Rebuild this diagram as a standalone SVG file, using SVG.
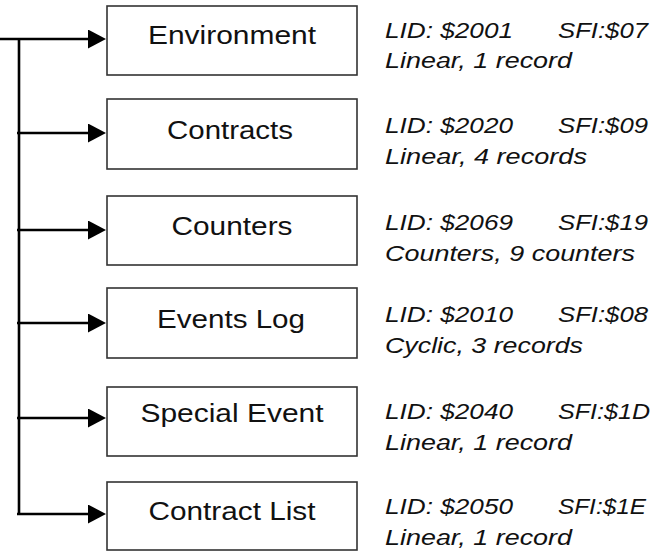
<svg xmlns="http://www.w3.org/2000/svg" width="658" height="553" viewBox="0 0 658 553">
  <style>
    .box { fill: #ffffff; stroke: #333333; stroke-width: 1.6; }
    .lbl { font-family: "Liberation Sans", Arial, sans-serif; font-size: 26px; fill: #111111; text-anchor: middle; }
    .info { font-family: "Liberation Sans", Arial, sans-serif; font-size: 22px; font-style: italic; fill: #111111; }
    .conn { fill: none; stroke: #000000; stroke-width: 2.6; }
  </style>
  <defs>
    <marker id="arrow" markerUnits="userSpaceOnUse" markerWidth="20" markerHeight="20" refX="1" refY="9.5" orient="auto">
      <path d="M0,0 L18,9.5 L0,19 z" fill="#000000"/>
    </marker>
  </defs>
  <rect width="658" height="553" fill="#ffffff"/>

  <g id="connectors">
    <line class="conn" x1="19" y1="38" x2="19" y2="515"/>
    <line class="conn" x1="0" y1="39" x2="89" y2="39" marker-end="url(#arrow)"/>
    <line class="conn" x1="17" y1="133" x2="89" y2="133" stroke-width="4" marker-end="url(#arrow)"/>
    <line class="conn" x1="17" y1="230" x2="89" y2="230" marker-end="url(#arrow)"/>
    <line class="conn" x1="17" y1="323" x2="89" y2="323" marker-end="url(#arrow)"/>
    <line class="conn" x1="17" y1="418" x2="89" y2="418" marker-end="url(#arrow)"/>
    <line class="conn" x1="17" y1="514" x2="89" y2="514" marker-end="url(#arrow)"/>
  </g>

  <g id="environment">
    <rect class="box" x="107" y="6" width="250" height="69"/>
    <text class="lbl" x="232" y="44" textLength="168" lengthAdjust="spacingAndGlyphs">Environment</text>
    <text class="info" x="385" y="37.5" textLength="128" lengthAdjust="spacingAndGlyphs">LID: $2001</text>
    <text class="info" x="558" y="37.5" textLength="90" lengthAdjust="spacingAndGlyphs">SFI:$07</text>
    <text class="info" x="385" y="68" textLength="187" lengthAdjust="spacingAndGlyphs">Linear, 1 record</text>
  </g>

  <g id="contracts">
    <rect class="box" x="107" y="99" width="250" height="70"/>
    <text class="lbl" x="230" y="139" textLength="126" lengthAdjust="spacingAndGlyphs">Contracts</text>
    <text class="info" x="385" y="133" textLength="128" lengthAdjust="spacingAndGlyphs">LID: $2020</text>
    <text class="info" x="558" y="133" textLength="90" lengthAdjust="spacingAndGlyphs">SFI:$09</text>
    <text class="info" x="385" y="163.5" textLength="202" lengthAdjust="spacingAndGlyphs">Linear, 4 records</text>
  </g>

  <g id="counters">
    <rect class="box" x="107" y="196" width="250" height="69"/>
    <text class="lbl" x="232" y="235" textLength="121" lengthAdjust="spacingAndGlyphs">Counters</text>
    <text class="info" x="385" y="230" textLength="128" lengthAdjust="spacingAndGlyphs">LID: $2069</text>
    <text class="info" x="558" y="230" textLength="90" lengthAdjust="spacingAndGlyphs">SFI:$19</text>
    <text class="info" x="385" y="260.5" textLength="250" lengthAdjust="spacingAndGlyphs">Counters, 9 counters</text>
  </g>

  <g id="events-log">
    <rect class="box" x="107" y="288" width="250" height="70"/>
    <text class="lbl" x="231" y="327.5" textLength="148" lengthAdjust="spacingAndGlyphs">Events Log</text>
    <text class="info" x="385" y="322" textLength="128" lengthAdjust="spacingAndGlyphs">LID: $2010</text>
    <text class="info" x="558" y="322" textLength="90" lengthAdjust="spacingAndGlyphs">SFI:$08</text>
    <text class="info" x="385" y="353" textLength="198" lengthAdjust="spacingAndGlyphs">Cyclic, 3 records</text>
  </g>

  <g id="special-event">
    <rect class="box" x="107" y="387" width="250" height="69"/>
    <text class="lbl" x="232" y="422" textLength="183" lengthAdjust="spacingAndGlyphs">Special Event</text>
    <text class="info" x="385" y="419" textLength="128" lengthAdjust="spacingAndGlyphs">LID: $2040</text>
    <text class="info" x="558" y="419" textLength="92" lengthAdjust="spacingAndGlyphs">SFI:$1D</text>
    <text class="info" x="385" y="450" textLength="187" lengthAdjust="spacingAndGlyphs">Linear, 1 record</text>
  </g>

  <g id="contract-list">
    <rect class="box" x="107" y="482" width="250" height="68"/>
    <text class="lbl" x="232" y="520" textLength="167" lengthAdjust="spacingAndGlyphs">Contract List</text>
    <text class="info" x="385" y="514" textLength="128" lengthAdjust="spacingAndGlyphs">LID: $2050</text>
    <text class="info" x="558" y="514" textLength="88" lengthAdjust="spacingAndGlyphs">SFI:$1E</text>
    <text class="info" x="385" y="544.5" textLength="187" lengthAdjust="spacingAndGlyphs">Linear, 1 record</text>
  </g>
</svg>
